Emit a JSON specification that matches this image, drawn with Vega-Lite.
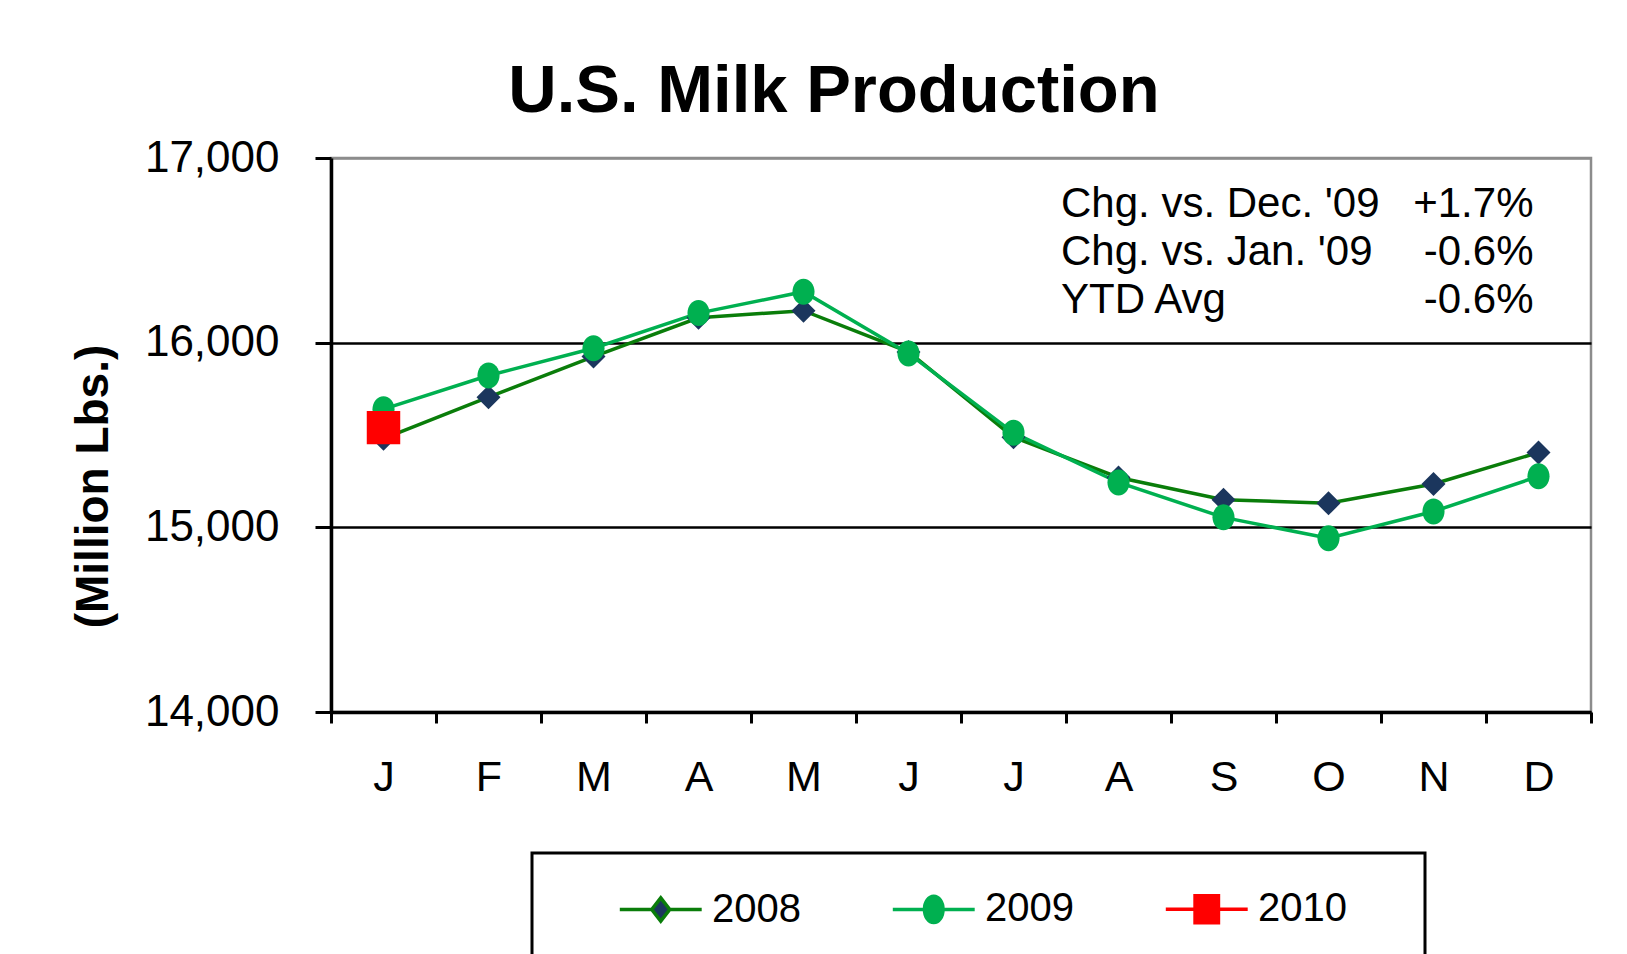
{
  "$schema": "https://vega.github.io/schema/vega-lite/v6.json",
  "width": 1260,
  "height": 554,
  "autosize": {"type": "none"},
  "padding": {"left": 331, "top": 158, "right": 36, "bottom": 242},
  "background": "white",
  "config": {
    "font": "Liberation Sans",
    "view": {"stroke": "#8C8C8C", "strokeWidth": 2.5}
  },
  "title": {
    "text": "U.S. Milk Production",
    "font": "Liberation Sans",
    "fontSize": 67,
    "fontWeight": "bold",
    "color": "black",
    "anchor": "middle",
    "frame": "group",
    "dx": -127,
    "offset": 10
  },
  "datasets": {
    "milk": [
      {"m": 1, "year": "2008", "value": 15480},
      {"m": 2, "year": "2008", "value": 15705},
      {"m": 3, "year": "2008", "value": 15925},
      {"m": 4, "year": "2008", "value": 16135},
      {"m": 5, "year": "2008", "value": 16173},
      {"m": 6, "year": "2008", "value": 15950},
      {"m": 7, "year": "2008", "value": 15488},
      {"m": 8, "year": "2008", "value": 15270},
      {"m": 9, "year": "2008", "value": 15150},
      {"m": 10, "year": "2008", "value": 15130},
      {"m": 11, "year": "2008", "value": 15235},
      {"m": 12, "year": "2008", "value": 15405},
      {"m": 1, "year": "2009", "value": 15640},
      {"m": 2, "year": "2009", "value": 15822},
      {"m": 3, "year": "2009", "value": 15970},
      {"m": 4, "year": "2009", "value": 16160},
      {"m": 5, "year": "2009", "value": 16276},
      {"m": 6, "year": "2009", "value": 15942},
      {"m": 7, "year": "2009", "value": 15512},
      {"m": 8, "year": "2009", "value": 15243},
      {"m": 9, "year": "2009", "value": 15054},
      {"m": 10, "year": "2009", "value": 14941},
      {"m": 11, "year": "2009", "value": 15086},
      {"m": 12, "year": "2009", "value": 15276},
      {"m": 1, "year": "2010", "value": 15540}
    ],
    "notes": [
      {"row": 1, "label": "Chg. vs. Dec. '09", "change": "+1.7%"},
      {"row": 2, "label": "Chg. vs. Jan. '09", "change": "-0.6%"},
      {"row": 3, "label": "YTD Avg", "change": "-0.6%"}
    ]
  },
  "layer": [
    {
      "data": {"name": "milk"},
      "encoding": {
        "x": {
          "field": "m",
          "type": "ordinal",
          "scale": {"domain": [1,2,3,4,5,6,7,8,9,10,11,12], "paddingInner": 0, "paddingOuter": 0},
          "axis": {
            "title": null,
            "labelExpr": "['J','F','M','A','M','J','J','A','S','O','N','D'][datum.value-1]",
            "labelAngle": 0,
            "labelFontSize": 43,
            "labelColor": "black",
            "labelPadding": 33,
            "tickBand": "extent",
            "tickSize": 11,
            "tickWidth": 3,
            "tickColor": "black",
            "domainColor": "black",
            "domainWidth": 3.5,
            "grid": false
          }
        },
        "y": {
          "field": "value",
          "type": "quantitative",
          "scale": {"domain": [14000, 17000], "zero": false, "nice": false},
          "axis": {
            "values": [14000, 15000, 16000, 17000],
            "format": ",.0f",
            "title": "(Million Lbs.)",
            "titleFontSize": 46,
            "titleFontWeight": "bold",
            "titleColor": "black",
            "titleAngle": 270,
            "titleAlign": "center",
            "titleBaseline": "alphabetic",
            "titleX": -224,
            "titleY": 328,
            "labelFontSize": 44,
            "labelColor": "black",
            "labelPadding": 36,
            "tickSize": 16,
            "tickWidth": 3,
            "tickColor": "black",
            "domainColor": "black",
            "domainWidth": 3.5,
            "grid": true,
            "gridColor": {"condition": {"test": "datum.value == 17000", "value": "#8C8C8C"}, "value": "black"},
            "gridWidth": 2.7
          }
        }
      },
      "layer": [
        {
          "mark": {"type": "line", "strokeWidth": 3.5},
          "encoding": {
            "stroke": {
              "field": "year",
              "type": "nominal",
              "scale": {"domain": ["2008", "2009", "2010"], "range": ["#0A7D0A", "#00B050", "#FF0000"]},
              "legend": {
                "title": " ",
                "titleOrient": "right",
                "titleFontSize": 10,
                "titlePadding": 42,
                "orient": "none",
                "legendX": 201,
                "legendY": 695,
                "direction": "horizontal",
                "columns": 3,
                "padding": 36,
                "strokeColor": "black",
                "symbolSize": 900,
                "symbolStrokeWidth": 3.5,
                "labelFontSize": 40,
                "labelFont": "Liberation Sans",
                "labelColor": "black",
                "labelOffset": 104,
                "columnPadding": 40,
                "encode": {
                  "legend": {"update": {"strokeWidth": {"value": 3}}},
                  "symbols": {
                    "update": {
                      "shape": {"signal": "datum.value == '2008' ? 'M2.12,0L4.25,0M5.45,0L7.58,0M4.85,-0.77L5.45,0L4.85,0.77L4.25,0Z' : datum.value == '2009' ? 'M2.12,0L4.23,0M5.47,0L7.58,0M5.47,0C5.47,0.486 5.192,0.88 4.85,0.88C4.508,0.88 4.23,0.486 4.23,0C4.23,-0.486 4.508,-0.88 4.85,-0.88C5.192,-0.88 5.47,-0.486 5.47,0Z' : 'M2.12,0L4.07,0M5.63,0L7.58,0M4.07,-0.9L5.63,-0.9L5.63,0.9L4.07,0.9Z'"},
                      "fill": {"signal": "datum.value == '2008' ? '#1B365D' : datum.value == '2009' ? '#00B050' : '#FF0000'"},
                      "stroke": {"signal": "datum.value == '2008' ? '#0A7D0A' : datum.value == '2009' ? '#00B050' : '#FF0000'"},
                      "fillOpacity": {"value": 1},
                      "opacity": {"value": 1}
                    }
                  }
                }
              }
            }
          }
        },
        {
          "transform": [{"filter": "datum.year == '2008'"}],
          "mark": {"type": "point", "filled": true, "opacity": 1, "shape": "diamond", "size": 576, "color": "#1B365D"}
        },
        {
          "transform": [{"filter": "datum.year == '2009'"}],
          "mark": {"type": "point", "filled": true, "opacity": 1, "shape": "M0.85,0C0.85,0.552 0.469,1 0,1C-0.469,1 -0.85,0.552 -0.85,0C-0.85,-0.552 -0.469,-1 0,-1C0.469,-1 0.85,-0.552 0.85,0Z", "size": 676, "color": "#00B050"}
        },
        {
          "transform": [{"filter": "datum.year == '2010'"}],
          "mark": {"type": "point", "filled": true, "opacity": 1, "shape": "square", "size": 1120, "color": "#FF0000"}
        }
      ]
    },
    {
      "data": {"name": "notes"},
      "encoding": {
        "y": {"field": "row", "type": "ordinal", "scale": {"type": "point", "range": [59, 155], "padding": 0}, "axis": null}
      },
      "layer": [
        {
          "mark": {"type": "text", "align": "left", "baseline": "alphabetic", "fontSize": 42, "font": "Liberation Sans", "color": "black", "dx": -5},
          "encoding": {
            "x": {"datum": 8, "type": "ordinal", "bandPosition": 0},
            "text": {"field": "label"}
          }
        },
        {
          "mark": {"type": "text", "align": "right", "baseline": "alphabetic", "fontSize": 42, "font": "Liberation Sans", "color": "black", "dx": -5},
          "encoding": {
            "x": {"datum": 12, "type": "ordinal"},
            "text": {"field": "change"}
          }
        }
      ]
    }
  ],
  "resolve": {"scale": {"y": "independent"}}
}
